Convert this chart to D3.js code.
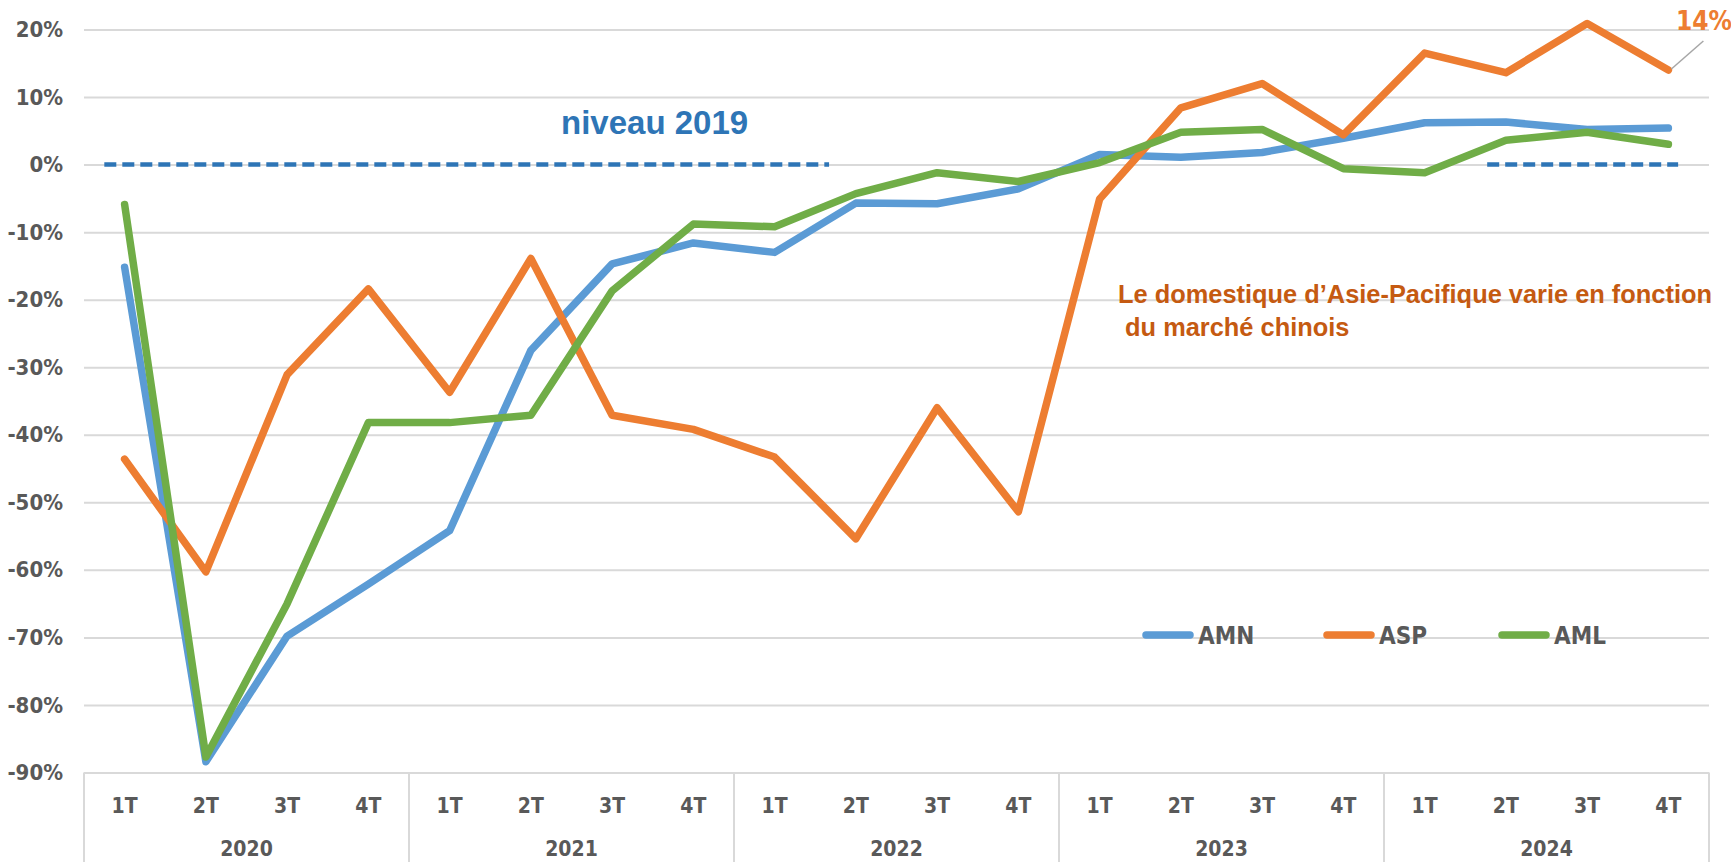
<!DOCTYPE html>
<html>
<head>
<meta charset="utf-8">
<script src="https://cdn.jsdelivr.net/npm/d3@7"></script>
<style>
  body { margin: 0; background: #fff; }
  .narrow { font-family: "Liberation Sans Narrow", "Arial Narrow", "DejaVu Sans Condensed", sans-serif; font-weight: bold; }
  .wide { font-family: "Liberation Sans", Arial, sans-serif; font-weight: bold; }
</style>
</head>
<body>
<svg id="chart" width="1731" height="862"></svg>
<script>
// Data (% vs 2019)
var years = ["2020", "2021", "2022", "2023", "2024"];
var quarters = ["1T", "2T", "3T", "4T"];
var seriesNames = ["AMN", "ASP", "AML"];
var amn = [-15.2, -88.4, -69.8, -62.1, -54.2, -27.5, -14.7, -11.6, -13.0, -5.7, -5.8, -3.6, 1.5, 1.1, 1.8, 3.9, 6.2, 6.3, 5.2, 5.4];
var asp = [-43.6, -60.3, -31.1, -18.4, -33.7, -13.9, -37.1, -39.2, -43.3, -55.4, -36.0, -51.4, -5.1, 8.4, 12.0, 4.4, 16.5, 13.6, 20.9, 14.0];
var aml = [-5.9, -87.7, -65.0, -38.2, -38.2, -37.1, -18.7, -8.8, -9.2, -4.3, -1.2, -2.5, 0.3, 4.8, 5.2, -0.6, -1.2, 3.6, 4.8, 3.0];
var yTicks = [20, 10, 0, -10, -20, -30, -40, -50, -60, -70, -80, -90];
var lastLabel = "14%";
var note2019 = "niveau 2019";
var noteAsp = ["Le domestique d\u2019Asie-Pacifique varie en fonction", " du marché chinois"];

var colors = ["#5b9bd5", "#ed7d31", "#70ad47"];
var textGray = "#595959";
var gridGray = "#d9d9d9";

// Layout
var pLeft = 84, pRight = 1709, pTop = 29.5, pBottom = 772.5, H = 862;

var cats = d3.range(years.length * quarters.length);
var x = d3.scaleBand().domain(cats).range([pLeft, pRight]);
var y = d3.scaleLinear().domain([-90, 20]).range([pBottom, pTop]);
var cx = function(i) { return x(i) + x.bandwidth() / 2; };

var svg = d3.select("#chart");

// gridlines + y labels
var yAxis = svg.append("g")
  .attr("transform", "translate(" + pLeft + ",0)")
  .call(d3.axisLeft(y).tickValues(yTicks).tickSize(-(pRight - pLeft)).tickPadding(21)
    .tickFormat(function(d) { return d + "%"; }));
yAxis.select(".domain").remove();
yAxis.selectAll(".tick line").attr("stroke", gridGray).attr("stroke-width", 2);
yAxis.selectAll(".tick text")
  .attr("class", "narrow")
  .attr("fill", textGray)
  .style("font-size", "22px");

// category axis dividers
svg.append("g").selectAll("line")
  .data(d3.range(years.length + 1))
  .enter().append("line")
  .attr("x1", function(k) { return pLeft + k * quarters.length * x.bandwidth(); })
  .attr("x2", function(k) { return pLeft + k * quarters.length * x.bandwidth(); })
  .attr("y1", pBottom)
  .attr("y2", H)
  .attr("stroke", gridGray)
  .attr("stroke-width", 2);

svg.append("g").selectAll("text")
  .data(cats)
  .enter().append("text")
  .attr("class", "narrow")
  .attr("x", cx)
  .attr("y", 813)
  .attr("text-anchor", "middle")
  .attr("fill", textGray)
  .style("font-size", "21px")
  .text(function(i) { return quarters[i % quarters.length]; });

svg.append("g").selectAll("text")
  .data(years)
  .enter().append("text")
  .attr("class", "narrow")
  .attr("x", function(d, k) { return pLeft + (k + 0.5) * quarters.length * x.bandwidth(); })
  .attr("y", 856)
  .attr("text-anchor", "middle")
  .attr("fill", textGray)
  .style("font-size", "21px")
  .text(function(d) { return d; });

// 2019 level dashed segments (in category units)
var dashSegs = [[-0.25, 8.67], [16.77, 19.12]];
svg.append("g").selectAll("line")
  .data(dashSegs)
  .enter().append("line")
  .attr("x1", function(s) { return cx(0) + s[0] * x.step(); })
  .attr("x2", function(s) { return cx(0) + s[1] * x.step(); })
  .attr("y1", y(0))
  .attr("y2", y(0))
  .attr("stroke", "#2e75b6")
  .attr("stroke-width", 4.5)
  .attr("stroke-dasharray", "12,6");

// series lines
var line = d3.line()
  .x(function(d, i) { return cx(i); })
  .y(function(d) { return y(d); });

svg.append("g").selectAll("path")
  .data([amn, asp, aml])
  .enter().append("path")
  .attr("d", line)
  .attr("fill", "none")
  .attr("stroke", function(d, i) { return colors[i]; })
  .attr("stroke-width", 7.5)
  .attr("stroke-linejoin", "round")
  .attr("stroke-linecap", "round");

// annotations
svg.append("line")
  .attr("x1", cx(19) + 3).attr("y1", y(asp[19]) - 1)
  .attr("x2", cx(19) + 35).attr("y2", y(asp[19]) - 29)
  .attr("stroke", "#a6a6a6").attr("stroke-width", 1.5);

svg.append("text")
  .attr("class", "narrow")
  .attr("x", 1676).attr("y", 30)
  .attr("fill", "#ed7d31")
  .style("font-size", "26px")
  .text(lastLabel);

svg.append("text")
  .attr("class", "wide")
  .attr("x", 561).attr("y", 134)
  .attr("fill", "#2e75b6")
  .style("font-size", "33px")
  .text(note2019);

svg.append("g").selectAll("text")
  .data(noteAsp)
  .enter().append("text")
  .attr("class", "wide")
  .attr("x", 1118)
  .attr("y", function(d, i) { return 303 + i * 33; })
  .attr("fill", "#c55a11")
  .style("white-space", "pre")
  .style("font-size", "25.4px")
  .text(function(d) { return d; });

// legend
var legX = [1143, 1324, 1499];
var leg = svg.append("g").selectAll("g")
  .data(seriesNames)
  .enter().append("g")
  .attr("transform", function(d, i) { return "translate(" + legX[i] + ",635)"; });
leg.append("line")
  .attr("x1", 3).attr("x2", 47)
  .attr("stroke", function(d, i) { return colors[i]; })
  .attr("stroke-width", 7.5)
  .attr("stroke-linecap", "round");
leg.append("text")
  .attr("class", "narrow")
  .attr("x", 55).attr("y", 9)
  .attr("fill", textGray)
  .style("font-size", "24px")
  .text(function(d) { return d; });
</script>
</body>
</html>
